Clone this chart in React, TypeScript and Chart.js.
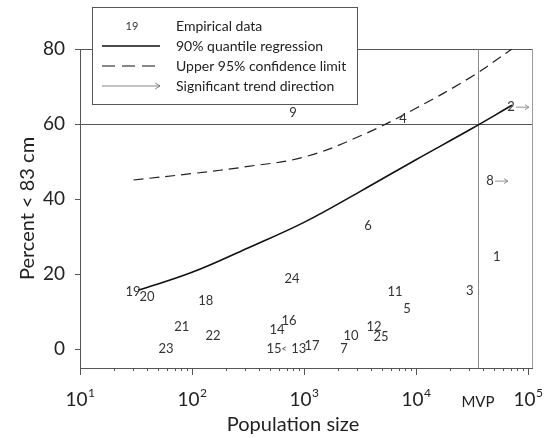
import { useEffect, useRef } from "react";
import { Chart, registerables } from "chart.js";
Chart.register(...registerables);

const FONT = "Lato, 'Open Sans', sans-serif";

// empirical data: site number, population size, percent < 83 cm
const siteIds = ["1", "2", "3", "4", "5", "6", "7", "8", "9", "10", "11", "12", "13", "14", "15", "16", "17", "18", "19", "20", "21", "22", "23", "24", "25"];
const siteSize = [52800, 70500, 30300, 7660, 8320, 3730, 2280, 45800, 800, 2630, 6490, 4220, 900, 574, 540, 735, 1180, 133, 29.7, 39.6, 81, 154, 58.6, 782, 4870];
const sitePercent = [24.5, 64.5, 15.5, 61.3, 10.7, 32.8, 0, 44.8, 62.9, 3.5, 15.2, 6.1, 0, 5.3, 0, 7.7, 0.8, 12.8, 15.2, 13.9, 5.9, 3.7, 0, 18.7, 3.2];
const trendUp = ["2", "8"];
const trendDown = ["15"];

// 90% quantile regression
const quantileSize = [33, 100, 316, 1000, 3162, 10000, 31623, 72000];
const quantile90 = [15.7, 20.5, 27, 33.8, 42, 50.5, 58.8, 65];

// upper 95% confidence limit
const upperSize = [30, 100, 316, 1000, 3162, 10000, 31623, 72000];
const upper95 = [45.1, 46.8, 48.7, 51.2, 56.8, 64.2, 72.7, 80];

const mvp = 35800;
const yTicks = [0, 20, 40, 60, 80];
const xExponents = [1, 2, 3, 4, 5];

const legendLabels = [
  "Empirical data",
  "90% quantile regression",
  "Upper 95% confidence limit",
  "Significant trend direction",
];

const arrow = (ctx: CanvasRenderingContext2D, x1: number, x2: number, y: number, head: number) => {
  ctx.beginPath();
  ctx.moveTo(x1, y);
  ctx.lineTo(x2, y);
  ctx.moveTo(x2 - head * 1.6, y - head);
  ctx.lineTo(x2, y);
  ctx.lineTo(x2 - head * 1.6, y + head);
  ctx.stroke();
};

const App = () => {
  const chartContainer = useRef<HTMLCanvasElement>(null);

  useEffect(() => {
    if (!chartContainer.current) return;

    const chart = new Chart(chartContainer.current, {
      type: "scatter",
      data: {
        datasets: [
          {
            label: legendLabels[0],
            data: siteSize.map((x, i) => ({ x, y: sitePercent[i] })),
            pointRadius: 0,
            showLine: false,
          },
          {
            label: legendLabels[1],
            data: quantileSize.map((x, i) => ({ x, y: quantile90[i] })),
            showLine: true,
            borderColor: "#111",
            borderWidth: 1.6,
            pointRadius: 0,
            tension: 0.4,
          },
          {
            label: legendLabels[2],
            data: upperSize.map((x, i) => ({ x, y: upper95[i] })),
            showLine: true,
            borderColor: "#222",
            borderWidth: 1.2,
            borderDash: [10, 6],
            pointRadius: 0,
            tension: 0.4,
          },
        ],
      },
      options: {
        animation: false,
        responsive: true,
        maintainAspectRatio: false,
        layout: { padding: { top: 49, right: 14, bottom: 70, left: 0 } },
        plugins: { legend: { display: false }, tooltip: { enabled: false } },
        scales: {
          x: { type: "logarithmic", min: 10, max: 111000, display: false },
          y: {
            type: "linear",
            min: -5,
            max: 80,
            afterBuildTicks: (scale) => {
              scale.ticks = yTicks.map((value) => ({ value }));
            },
            afterFit: (scale) => {
              scale.width = 80;
            },
            ticks: { font: { family: FONT, size: 19 }, color: "#222", padding: 10 },
            grid: {
              color: (c) => (c.tick && c.tick.value === 60 ? "#555" : "transparent"),
              tickColor: "#555",
              tickLength: 5,
            },
            border: { color: "#555", width: 1 },
            title: {
              display: true,
              text: "Percent < 83 cm",
              color: "#222",
              font: { family: FONT, size: 20 },
              padding: { top: 16, bottom: 0 },
            },
          },
        },
      },
      plugins: [
        {
          id: "frame",
          beforeDatasetsDraw: (c) => {
            const ctx = c.ctx;
            const { left, right, top, bottom } = c.chartArea;
            const xs = c.scales.x;
            ctx.save();
            ctx.lineWidth = 1;
            // top frame
            ctx.strokeStyle = "#555";
            ctx.beginPath();
            ctx.moveTo(left, top + 0.5);
            ctx.lineTo(right, top + 0.5);
            ctx.stroke();
            // right frame
            ctx.strokeStyle = "#9a9a9a";
            ctx.beginPath();
            ctx.moveTo(right - 0.5, top);
            ctx.lineTo(right - 0.5, bottom);
            ctx.stroke();
            // MVP line
            const mx = Math.round(xs.getPixelForValue(mvp)) + 0.5;
            ctx.strokeStyle = "#888";
            ctx.beginPath();
            ctx.moveTo(mx, top);
            ctx.lineTo(mx, bottom);
            ctx.stroke();
            // x axis line and ticks
            ctx.strokeStyle = "#555";
            ctx.beginPath();
            ctx.moveTo(left, bottom + 0.5);
            ctx.lineTo(right, bottom + 0.5);
            xExponents.forEach((e) => {
              const ms = e === 5 ? [1] : [1, 2, 3, 4, 5, 6, 7, 8, 9];
              ms.forEach((m) => {
                const px = Math.round(xs.getPixelForValue(m * Math.pow(10, e))) + 0.5;
                ctx.moveTo(px, bottom);
                ctx.lineTo(px, bottom + (m === 1 ? 7 : 3));
              });
            });
            ctx.stroke();
            ctx.restore();
          },
          afterDatasetsDraw: (c) => {
            const ctx = c.ctx;
            const xs = c.scales.x;
            const ys = c.scales.y;
            ctx.save();
            // site labels
            ctx.textAlign = "center";
            ctx.textBaseline = "middle";
            ctx.font = `13px ${FONT}`;
            ctx.fillStyle = "#333";
            ctx.strokeStyle = "#777";
            ctx.lineWidth = 0.8;
            siteIds.forEach((id, i) => {
              const px = xs.getPixelForValue(siteSize[i]);
              const py = ys.getPixelForValue(sitePercent[i]);
              ctx.fillText(id, px, py);
              if (trendUp.includes(id)) arrow(ctx, px + 5, px + 18, py, 2.5);
              if (trendDown.includes(id)) {
                ctx.font = `9px ${FONT}`;
                ctx.fillText("<", px + 10, py);
                ctx.font = `13px ${FONT}`;
              }
            });

            // x tick labels
            ctx.fillStyle = "#222";
            xExponents.forEach((e) => {
              const px = xs.getPixelForValue(Math.pow(10, e));
              ctx.font = `19px ${FONT}`;
              const w1 = ctx.measureText("10").width;
              ctx.font = `12px ${FONT}`;
              const w2 = ctx.measureText(String(e)).width;
              const x0 = px - (w1 + w2) / 2;
              ctx.textAlign = "left";
              ctx.font = `19px ${FONT}`;
              ctx.fillText("10", x0, 400);
              ctx.font = `12px ${FONT}`;
              ctx.fillText(String(e), x0 + w1 + 0.5, 393);
            });
            ctx.textAlign = "center";
            ctx.font = `15px ${FONT}`;
            ctx.fillText("MVP", xs.getPixelForValue(mvp), 402);
            ctx.font = `20px ${FONT}`;
            ctx.fillText("Population size", 293, 425);

            // legend
            const bx = 92.5, by = 7.5, bw = 265, bh = 97;
            ctx.fillStyle = "#fff";
            ctx.fillRect(bx, by, bw, bh);
            ctx.strokeStyle = "#555";
            ctx.lineWidth = 1;
            ctx.strokeRect(bx, by, bw, bh);
            const rows = [26, 46, 66, 86];
            ctx.fillStyle = "#333";
            ctx.font = `11px ${FONT}`;
            ctx.fillText("19", 132, rows[0]);
            ctx.strokeStyle = "#111";
            ctx.lineWidth = 1.6;
            ctx.beginPath();
            ctx.moveTo(102, rows[1]);
            ctx.lineTo(160, rows[1]);
            ctx.stroke();
            ctx.lineWidth = 1.2;
            ctx.setLineDash([13, 7]);
            ctx.beginPath();
            ctx.moveTo(102, rows[2]);
            ctx.lineTo(160, rows[2]);
            ctx.stroke();
            ctx.setLineDash([]);
            ctx.strokeStyle = "#666";
            ctx.lineWidth = 0.8;
            arrow(ctx, 102, 160, rows[3], 3);
            ctx.textAlign = "left";
            ctx.fillStyle = "#222";
            ctx.font = `14px ${FONT}`;
            legendLabels.forEach((t, i) => ctx.fillText(t, 176, rows[i]));
            ctx.restore();
          },
        },
      ],
    });

    return () => {
      chart.destroy();
    };
  }, []);

  return (
    <div style={{ position: "fixed", left: 0, top: 0, width: 547, height: 438, background: "#fff" }}>
      <canvas ref={chartContainer} />
    </div>
  );
};

export default App;
